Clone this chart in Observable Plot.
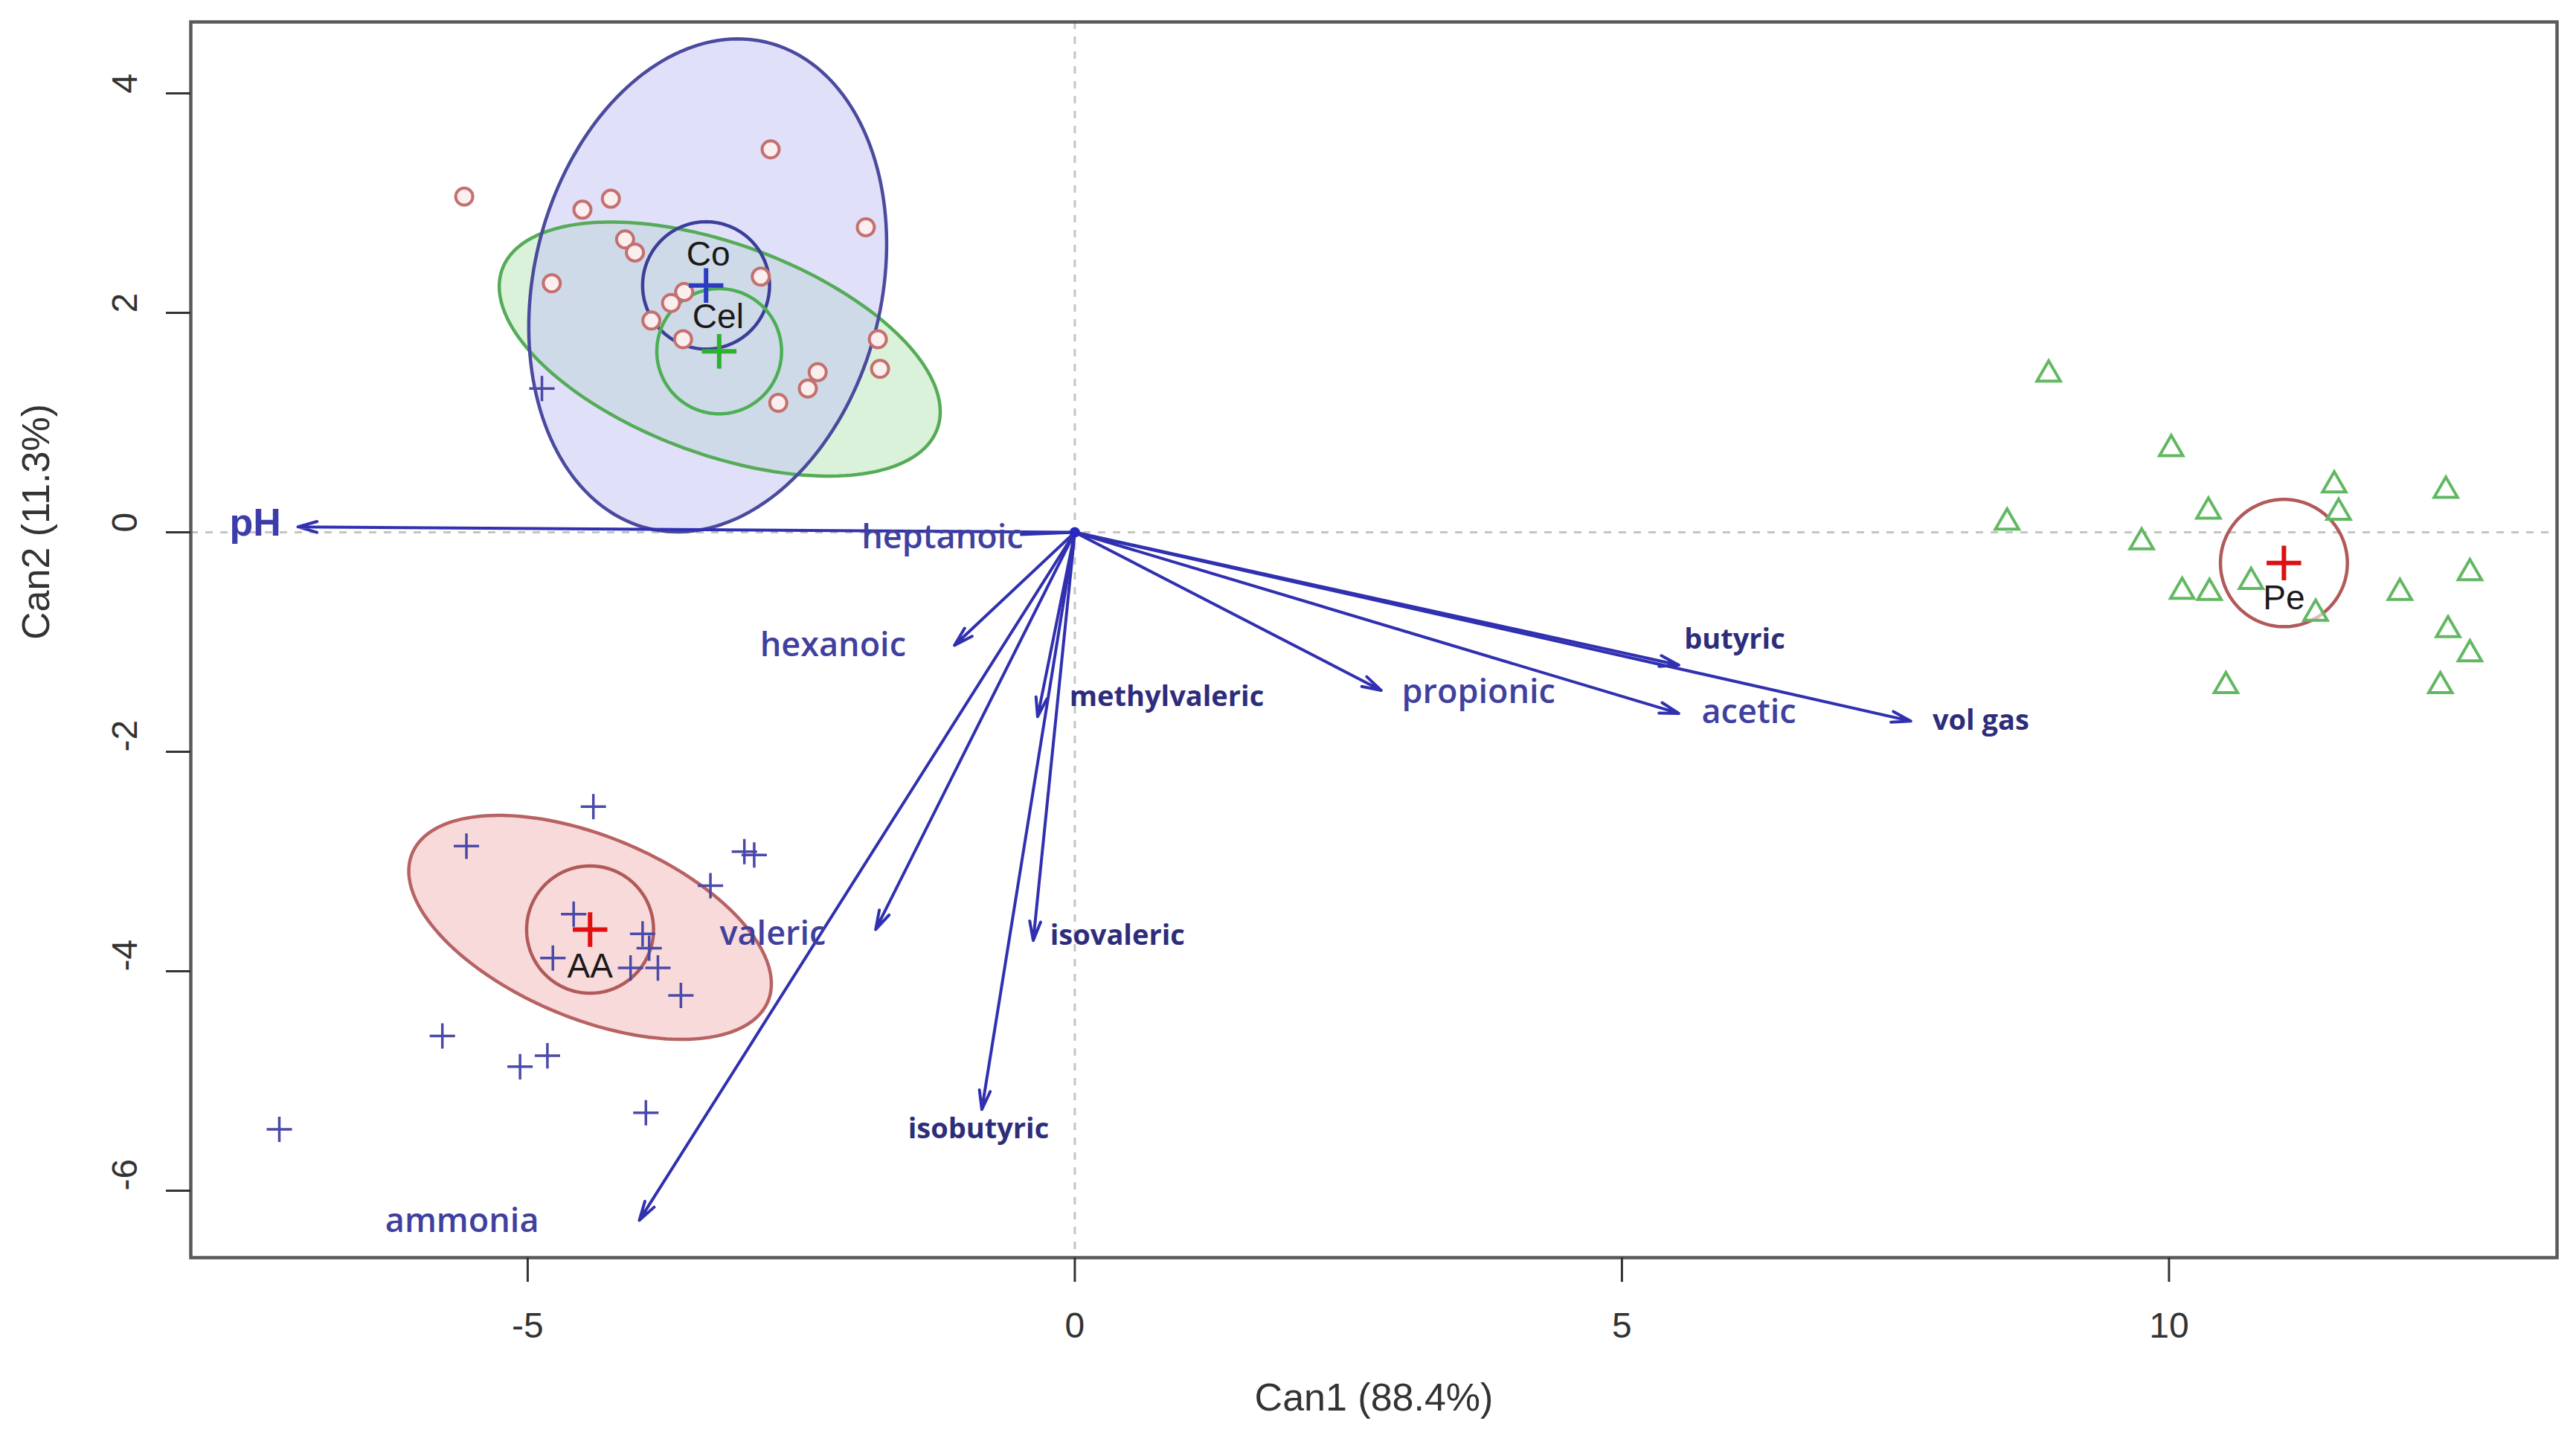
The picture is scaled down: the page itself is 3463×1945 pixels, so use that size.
<!DOCTYPE html>
<html><head><meta charset="utf-8">
<script src="https://cdn.jsdelivr.net/npm/d3@7"></script>
<script src="https://cdn.jsdelivr.net/npm/@observablehq/plot@0.6"></script>
<style>html,body{margin:0;padding:0;background:#fff;}</style>
</head><body><div id="chart"></div>
<script>
// ---- data ----
const coX = [-5.58,-4.50,-4.24,-2.78,-1.91,-4.11,-4.02,-4.78,-2.87,-3.57,-3.69,-3.87,-3.58,-1.80,-1.78,-2.35,-2.44,-2.71];
const coY = [3.06,2.94,3.04,3.49,2.78,2.67,2.55,2.27,2.33,2.19,2.09,1.93,1.76,1.76,1.49,1.46,1.31,1.18];

const aaX = [-4.40,-5.56,-3.02,-2.93,-3.33,-4.58,-3.95,-3.89,-4.77,-4.06,-3.81,-3.60,-5.78,-4.82,-5.07,-3.92,-7.27,-4.87];
const aaY = [-2.50,-2.86,-2.91,-2.94,-3.22,-3.48,-3.66,-3.79,-3.88,-3.97,-3.97,-4.22,-4.59,-4.77,-4.87,-5.29,-5.44,1.31];

const peX = [8.90,10.02,11.51,12.53,10.36,11.55,8.52,9.75,12.75,10.75,10.12,10.37,12.11,11.34,12.55,12.75,10.52,12.48];
const peY = [1.44,0.76,0.43,0.38,0.19,0.18,0.09,-0.09,-0.37,-0.45,-0.54,-0.55,-0.55,-0.74,-0.89,-1.11,-1.40,-1.40];

const varNames  = ["pH","heptanoic","hexanoic","methylvaleric","propionic","butyric","acetic","vol gas","valeric","isovaleric","isobutyric","ammonia"];
const varX      = [-7.10,-0.50,-1.10,-0.34,2.80,5.52,5.52,7.64,-1.82,-0.38,-0.85,-3.98];
const varY      = [0.05,-0.02,-1.03,-1.68,-1.44,-1.21,-1.65,-1.72,-3.62,-3.72,-5.26,-6.27];
const varLabX   = [-7.49,-1.21,-2.21,0.84,3.69,6.03,6.16,8.28,-2.76,0.39,-0.88,-5.60];
const varLabY   = [0.08,-0.05,-1.03,-1.50,-1.46,-0.98,-1.64,-1.72,-3.66,-3.68,-5.44,-6.28];
const varStyle  = ["ph","big","big","small","big","small","big","small","big","small","small","big"];
const varHead   = [true,false,true,true,true,true,true,true,true,true,true,true];

const groupNames = ["Co","Cel","AA","Pe"];
const groupMeanX = [-3.37,-3.25,-4.43,11.05];
const groupMeanY = [2.25,1.65,-3.62,-0.28];
const groupLabX  = [-3.35,-3.26,-4.43,11.05];
const groupLabY  = [2.53,1.96,-3.96,-0.60];
const meanRadius = [0.58,0.57,0.58,0.58];
const meanColor  = ["#2a3cc0","#2fb02f","#e01010","#e01010"];
const circColor  = ["#3b3f9a","#4caf55","#b05a5a","#b05a5a"];

// data ellipses (centre, semi-axes, angle in degrees)
const ellGroups = ["Cel","Co","AA"];
const ellCx = [-3.245,-3.355,-4.43];
const ellCy = [1.67,2.25,-3.60];
const ellA  = [2.117,2.28,1.76];
const ellB  = [0.959,1.588,0.83];
const ellAng = [-20.1,76.2,-22.5];
const ellFill = ["#b9e8b9","#c6c6f4","#f7caca"];
const ellFillOp = [0.55,0.55,0.7];
const ellStroke = ["#55ab58","#4a4a9e","#b86262"];

const xTicks = [-5,0,5,10];
const yTicks = [-6,-4,-2,0,2,4];

// ---- geometry helpers ----
function ellipsePts(cx, cy, a, b, deg, n = 180) {
  const th = deg * Math.PI / 180, pts = [];
  for (let i = 0; i <= n; i++) {
    const t = 2 * Math.PI * i / n;
    pts.push({x: cx + a*Math.cos(t)*Math.cos(th) - b*Math.sin(t)*Math.sin(th),
              y: cy + a*Math.cos(t)*Math.sin(th) + b*Math.sin(t)*Math.cos(th)});
  }
  return pts;
}

const coPts = coX.map((x,i)=>({x, y: coY[i]}));
const aaPts = aaX.map((x,i)=>({x, y: aaY[i]}));
const pePts = peX.map((x,i)=>({x, y: peY[i]}));
const vecs = varNames.map((n,i)=>({name:n, x0:0, y0:0, x:varX[i], y:varY[i], lx:varLabX[i], ly:varLabY[i], s:varStyle[i], h:varHead[i]}));
const groups = groupNames.map((g,i)=>({g, mx:groupMeanX[i], my:groupMeanY[i], lx:groupLabX[i], ly:groupLabY[i]}));

const marks = [];
// dashed reference lines
marks.push(Plot.ruleX([0], {stroke:"#c4c4c4", strokeWidth:3, strokeDasharray:"10,10"}));
marks.push(Plot.ruleY([0], {stroke:"#c4c4c4", strokeWidth:3, strokeDasharray:"10,10"}));
// ellipse fills
ellGroups.forEach((g,i)=>{
  marks.push(Plot.line(ellipsePts(ellCx[i],ellCy[i],ellA[i],ellB[i],ellAng[i]),
    {x:"x", y:"y", fill: ellFill[i], fillOpacity: ellFillOp[i], stroke:"none"}));
});
// ellipse outlines
ellGroups.forEach((g,i)=>{
  marks.push(Plot.line(ellipsePts(ellCx[i],ellCy[i],ellA[i],ellB[i],ellAng[i]),
    {x:"x", y:"y", stroke: ellStroke[i], strokeWidth: 4.5}));
});
// mean confidence circles
groupNames.forEach((g,i)=>{
  marks.push(Plot.line(ellipsePts(groupMeanX[i],groupMeanY[i],meanRadius[i],meanRadius[i],0),
    {x:"x", y:"y", stroke: circColor[i], strokeWidth: 4.5}));
});
// observations
marks.push(Plot.dot(coPts, {x:"x", y:"y", symbol:"circle", r:11.5, stroke:"#c4706f", strokeWidth:4, fill:"#fbeeee"}));
marks.push(Plot.dot(aaPts, {x:"x", y:"y", symbol:"plus", r:11, stroke:"#4a4aa8", strokeWidth:3.5}));
marks.push(Plot.dot(pePts, {x:"x", y:"y", symbol:"triangle2", r:15, stroke:"#62b862", strokeWidth:4, fill:"white", fillOpacity:0.6}));
// vectors
marks.push(Plot.arrow(vecs.filter(d=>d.h), {x1:"x0", y1:"y0", x2:"x", y2:"y", stroke:"#3030b0", strokeWidth:4, headLength:10, headAngle:32}));
marks.push(Plot.link(vecs.filter(d=>!d.h), {x1:"x0", y1:"y0", x2:"x", y2:"y", stroke:"#3030b0", strokeWidth:4}));
marks.push(Plot.dot([{x:0,y:0}], {x:"x", y:"y", r:7, fill:"#2828c0"}));
// mean crosses
groups.forEach((d,i)=>{
  marks.push(Plot.dot([d], {x:"mx", y:"my", symbol:"plus", r:15, stroke: meanColor[i], strokeWidth:6}));
});
// group labels
marks.push(Plot.text(groups, {x:"lx", y:"ly", text:"g", fontSize:46, fill:"#1a1a1a", fontFamily:"Liberation Sans, Arial, sans-serif"}));
// vector labels
marks.push(Plot.text(vecs.filter(d=>d.s==="big"), {x:"lx", y:"ly", text:"name", fontSize:45, fill:"#40409e", fontFamily:"Open Sans, sans-serif", fontWeight:600}));
marks.push(Plot.text(vecs.filter(d=>d.s==="small"), {x:"lx", y:"ly", text:"name", fontSize:38, fill:"#2d2d7c", fontFamily:"Open Sans, sans-serif", fontWeight:700}));
marks.push(Plot.text(vecs.filter(d=>d.s==="ph"), {x:"lx", y:"ly", text:"name", fontSize:52, fill:"#3d3daa", fontFamily:"Liberation Sans, Arial, sans-serif", fontWeight:700}));
// frame and axes
marks.push(Plot.frame({stroke:"#5a5a5a", strokeWidth:4.5}));
marks.push(Plot.axisX({ticks:xTicks, tickSize:33, tickPadding:40, fontSize:48, tickFormat:d=>String(d), label:null, color:"#333", strokeWidth:3}));
marks.push(Plot.axisY({ticks:yTicks, tickSize:33, tickFormat:()=>"", label:null, color:"#333", strokeWidth:3}));
marks.push(Plot.text(yTicks, {y:d=>d, frameAnchor:"left", dx:-88, rotate:-90, text:d=>String(d), fontSize:48, fill:"#333"}));
marks.push(Plot.text(["Can1 (88.4%)"], {frameAnchor:"bottom", dy:205, text:d=>d, fontSize:52, fill:"#333"}));
marks.push(Plot.text(["Can2 (11.3%)"], {frameAnchor:"left", dx:-207, rotate:-90, text:d=>d, fontSize:52, fill:"#333"}));

const chart = Plot.plot({
  width: 3463, height: 1945,
  marginLeft: 256, marginRight: 26, marginTop: 29, marginBottom: 255,
  x: {domain: [-8.079, 13.546]},
  y: {domain: [-6.610, 4.651]},
  style: {fontFamily: "Liberation Sans, Arial, sans-serif", background: "white", overflow: "visible"},
  marks
});
document.getElementById("chart").appendChild(chart);
</script>
</body></html>
